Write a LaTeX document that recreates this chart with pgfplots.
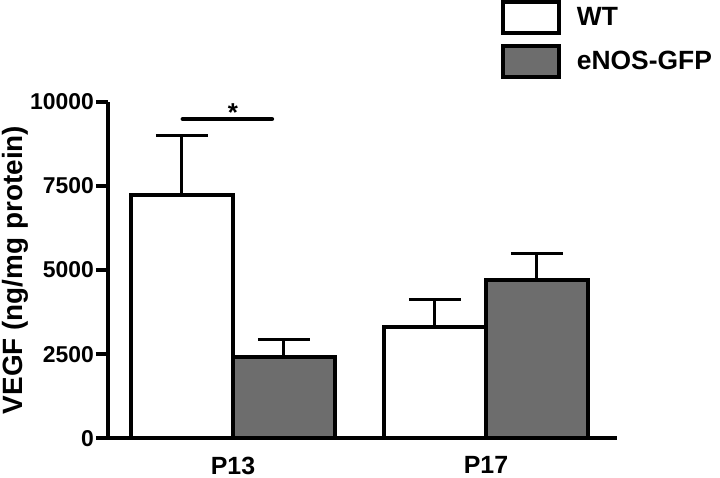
\documentclass[border=0pt]{standalone}
\usepackage{fontspec}
\setmainfont{Liberation Sans}
\usepackage{pgfplots}
\pgfplotsset{compat=1.18}
\definecolor{barGray}{RGB}{109,109,109}
\begin{document}
\begin{tikzpicture}
\begin{axis}[
  at={(108bp,39.7bp)}, anchor=south west,
  scale only axis, width=509bp, height=336.6bp,
  xmin=-0.494, xmax=1.518, ymin=0, ymax=10000,
  axis x line=bottom, axis y line=left,
  axis line style={line width=4bp, -, black},
  ybar=0pt, bar width=102bp,
  xtick={0,1}, xticklabels={P13,P17},
  x tick style={draw=none},
  ytick={0,2500,5000,7500,10000},
  scaled y ticks=false,
  y tick style={line width=4bp, black},
  tick align=outside, major tick length=12bp,
  yticklabel style={/pgf/number format/fixed, /pgf/number format/set thousands separator={}, /pgf/number format/assume math mode=true, font=\bfseries\fontsize{23}{26}\selectfont, inner sep=2bp},
  xticklabel style={font=\bfseries\fontsize{25}{28}\selectfont, yshift=-3bp},
  ylabel={VEGF (ng/mg protein)},
  ylabel style={at={(axis description cs:-0.167,0.5)}, anchor=base, font=\bfseries\fontsize{28}{32}\selectfont},
  legend style={at={(axis description cs:0.772,1.302)}, anchor=north west, draw=none, fill=none, inner sep=0pt, outer sep=0pt, nodes={inner sep=0pt}, font=\bfseries\fontsize{26.5}{30}\selectfont, row sep=8.5bp, /tikz/every odd column/.append style={column sep=16bp}},
  legend cell align=left,
]
\addplot[fill=white, draw=black, line width=4bp,
  legend image code/.code={\draw[fill=white, draw=black, line width=4bp] (0bp,-15.5bp) rectangle (56bp,15.5bp);},
  error bars/.cd, y dir=plus, y explicit,
  error bar style={line width=3bp, black},
  error mark options={rotate=90, line width=3bp, mark size=26bp, black}]
  coordinates {(0,7228) +- (0,1782) (1,3298) +- (0,832)};
\addlegendentry{WT}
\addplot[fill=barGray, draw=black, line width=4bp,
  legend image code/.code={\draw[fill=barGray, draw=black, line width=4bp] (0bp,-15.5bp) rectangle (56bp,15.5bp);},
  error bars/.cd, y dir=plus, y explicit,
  error bar style={line width=3bp, black},
  error mark options={rotate=90, line width=3bp, mark size=26bp, black}]
  coordinates {(0,2425) +- (0,515) (1,4703) +- (0,793)};
\addlegendentry{eNOS-GFP}
\addplot[sharp plot, forget plot, black, line width=4.5bp, line cap=round, mark=none]
  coordinates {(-0.198,9486) (0.154,9486)};
\node[font=\bfseries\fontsize{26}{30}\selectfont, anchor=base, inner sep=0pt] at (axis cs:0,9397) {*};
\end{axis}
\pgfresetboundingbox
\useasboundingbox (0,0) rectangle (720bp,478bp);
\end{tikzpicture}
\end{document}
